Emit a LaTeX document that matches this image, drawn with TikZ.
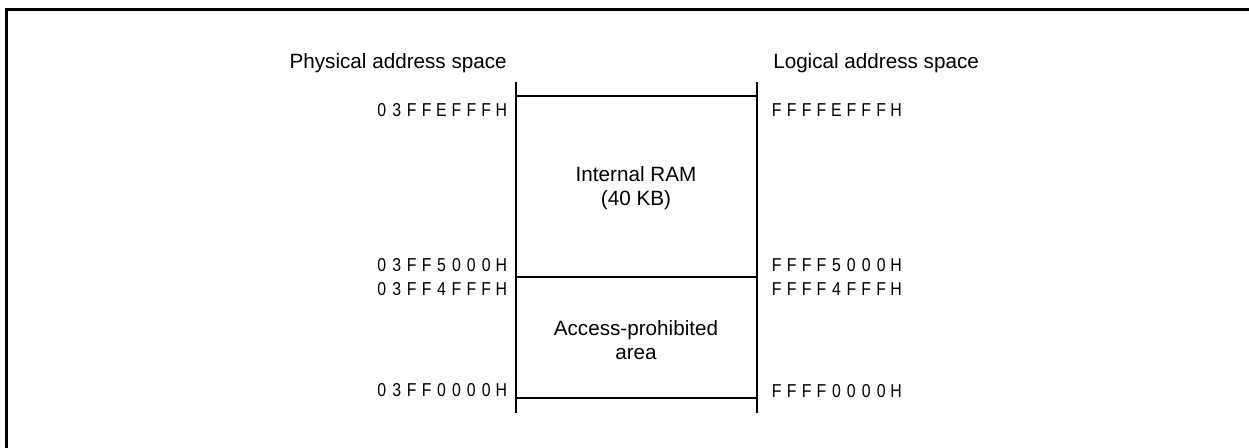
\documentclass[tikz,border=0pt]{standalone}
\usepackage{fontspec}
\setmainfont{Liberation Sans}
\usetikzlibrary{positioning}

\makeatletter
\newcommand{\addr}[1]{\@tfor\ch:=#1\do{\makebox[11.2pt]{\scalebox{0.85}[1]{\ch}}}}
\makeatother

\tikzset{
  spacelabel/.style={font=\fontsize{15.5}{18}\selectfont, inner sep=0pt},
  addrlabel/.style={font=\fontsize{14}{16}\selectfont, inner sep=0pt},
  arealabel/.style={font=\fontsize{15.5}{17.5}\selectfont, align=center, inner sep=0pt},
  axisline/.style={line width=2pt},
  bound/.style={line width=0.9pt},
  frameline/.style={line width=2.25pt}
}

\begin{document}
\begin{tikzpicture}[x=0.75pt, y=-0.75pt]
	\useasboundingbox (0,0) rectangle (1249,448);
	\draw[frameline] (6.5,448) -- (6.5,9.5) -- (1249,9.5);

	% the two address axes
	\coordinate (phys top) at (516,82);
	\coordinate (phys bot) at (516,413);
	\coordinate (log top) at (757,82);
	\coordinate (log bot) at (757,413);
	\draw[axisline] (phys top) -- (phys bot);
	\draw[axisline] (log top) -- (log bot);

	% area boundaries
	\foreach \y in {96,277,398}
		\draw[bound] (phys top |- 0,\y) -- (log top |- 0,\y);

	% headings
	\node[spacelabel, anchor=base east] (phys) at (507,69) {Physical address space};
	\node[spacelabel, anchor=base west] (log) at (773,69) {Logical address space};

	% addresses
	\node[addrlabel, anchor=base east] (p1) at (509,117) {\addr{03FFEFFFH}};
	\node[addrlabel, anchor=base east] (p2) at (509,272) {\addr{03FF5000H}};
	\node[addrlabel, anchor=base east] (p3) at (509,296) {\addr{03FF4FFFH}};
	\node[addrlabel, anchor=base east] (p4) at (509,397) {\addr{03FF0000H}};
	\node[addrlabel, anchor=base west] (l1) at (769,117) {\addr{FFFFEFFFH}};
	\node[addrlabel, anchor=base west] (l2) at (769,272) {\addr{FFFF5000H}};
	\node[addrlabel, anchor=base west] (l3) at (769,296) {\addr{FFFF4FFFH}};
	\node[addrlabel, anchor=base west] (l4) at (769,398) {\addr{FFFF0000H}};

	% areas
	\node[arealabel] (ram) at (636,188) {Internal RAM\\(40 KB)};
	\node[arealabel] (prohib) at (636,340) {Access-prohibited\\area};
\end{tikzpicture}
\end{document}
